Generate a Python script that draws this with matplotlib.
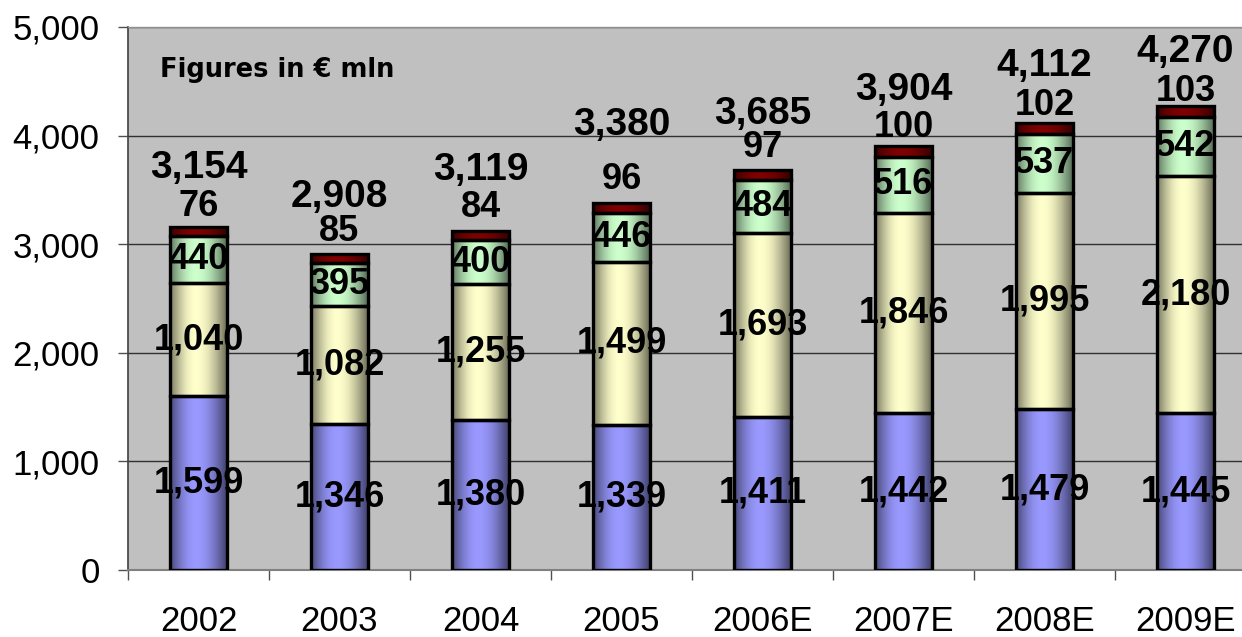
import numpy as np
import matplotlib
matplotlib.use("Agg")
import matplotlib.pyplot as plt
from matplotlib.colors import to_rgb

# Figures in EUR mln, stacked by component
years = ["2002", "2003", "2004", "2005", "2006E", "2007E", "2008E", "2009E"]
seg_blue = [1599, 1346, 1380, 1339, 1411, 1442, 1479, 1445]
seg_yellow = [1040, 1082, 1255, 1499, 1693, 1846, 1995, 2180]
seg_green = [440, 395, 400, 446, 484, 516, 537, 542]
seg_red = [76, 85, 84, 96, 97, 100, 102, 103]
totals = [3154, 2908, 3119, 3380, 3685, 3904, 4112, 4270]

# label offsets above the bar top (points)
red_label_off = [15, 16, 17, 17, 16, 13, 13, 11]
total_label_off = [43, 41, 44, 56, 40, 40, 41, 39]

LABEL_FONT = "Liberation Sans"

fig = plt.figure(figsize=(12.42, 6.37), dpi=100)
ax = fig.add_axes([128 / 1242, 67 / 637, 1128 / 1242, 543 / 637])
ax.set_facecolor("#C0C0C0")

x = np.arange(len(years))
width = 0.41

# horizontal shading profile across each bar: dark edges, bright near the middle
t = np.linspace(0, 1, 96)
peak = 0.45
prof = np.where(
    t < peak,
    0.48 + 0.52 * np.sin(np.pi / 2 * t / peak),
    0.40 + 0.60 * np.cos(np.pi / 2 * (t - peak) / (1 - peak)),
)

layers = [
    (seg_blue, "#9999FF"),
    (seg_yellow, "#FFFFCC"),
    (seg_green, "#CCFFCC"),
    (seg_red, "#800000"),
]

bottom = np.zeros(len(years))
for li, (vals, col) in enumerate(layers):
    vals = np.array(vals, dtype=float)
    bars = ax.bar(x, vals, width, bottom=bottom, facecolor="none",
                  edgecolor="black", linewidth=2.4, zorder=3)
    rgb = np.array(to_rgb(col))
    img = (prof[:, None] * rgb[None, :])[None, :, :]
    for b in bars:
        x0, y0 = b.get_x(), b.get_y()
        w, h = b.get_width(), b.get_height()
        ax.imshow(img, extent=[x0, x0 + w, y0, y0 + h], aspect="auto",
                  interpolation="bilinear", zorder=2)
    if li < 3:
        for xi, b0, v in zip(x, bottom, vals):
            ax.text(xi, b0 + v / 2, f"{int(v):,}", ha="center", va="center",
                    fontsize=26, fontweight="bold", family=LABEL_FONT, zorder=5)
    bottom = bottom + vals

tops = bottom.copy()
for xi, top, v, off in zip(x, tops, seg_red, red_label_off):
    ax.annotate(f"{v:,}", xy=(xi, top), xytext=(0, off), textcoords="offset points",
                ha="center", va="center", fontsize=26, fontweight="bold",
                family=LABEL_FONT, zorder=5)
for xi, top, v, off in zip(x, tops, totals, total_label_off):
    ax.annotate(f"{v:,}", xy=(xi, top), xytext=(0, off), textcoords="offset points",
                ha="center", va="center", fontsize=28, fontweight="bold",
                family=LABEL_FONT, zorder=5)

ax.text(-0.27, 4600, "Figures in \u20ac mln", ha="left", va="center",
        fontsize=18.5, fontweight="bold", family="DejaVu Sans", zorder=5)

ax.set_xlim(-0.5, len(years) - 0.5)
ax.set_ylim(0, 5000)

yticks = list(range(0, 5001, 1000))
ax.set_yticks(yticks)
ax.set_yticklabels([f"{v:,}" for v in yticks], fontsize=25, family=LABEL_FONT)
ax.yaxis.grid(True, color="#303030", linewidth=1.0, zorder=1)
ax.set_axisbelow(True)
ax.tick_params(axis="y", direction="out", length=7.5, width=1, color="#505050", pad=13)

ax.set_xticks(x)
ax.set_xticklabels(years, fontsize=25, family=LABEL_FONT)
ax.set_xticks(np.arange(len(years) + 1) - 0.5, minor=True)
ax.tick_params(axis="x", which="major", length=0, pad=25)
ax.tick_params(axis="x", which="minor", direction="out", length=7.5, width=1, color="#505050")

ax.spines["left"].set_color("#404040")
ax.spines["left"].set_linewidth(1.2)
ax.spines["bottom"].set_color("#808080")
ax.spines["bottom"].set_linewidth(1.5)
ax.spines["top"].set_color("#909090")
ax.spines["top"].set_linewidth(1.0)
ax.spines["right"].set_visible(False)

fig.savefig("out.png", dpi=100)
